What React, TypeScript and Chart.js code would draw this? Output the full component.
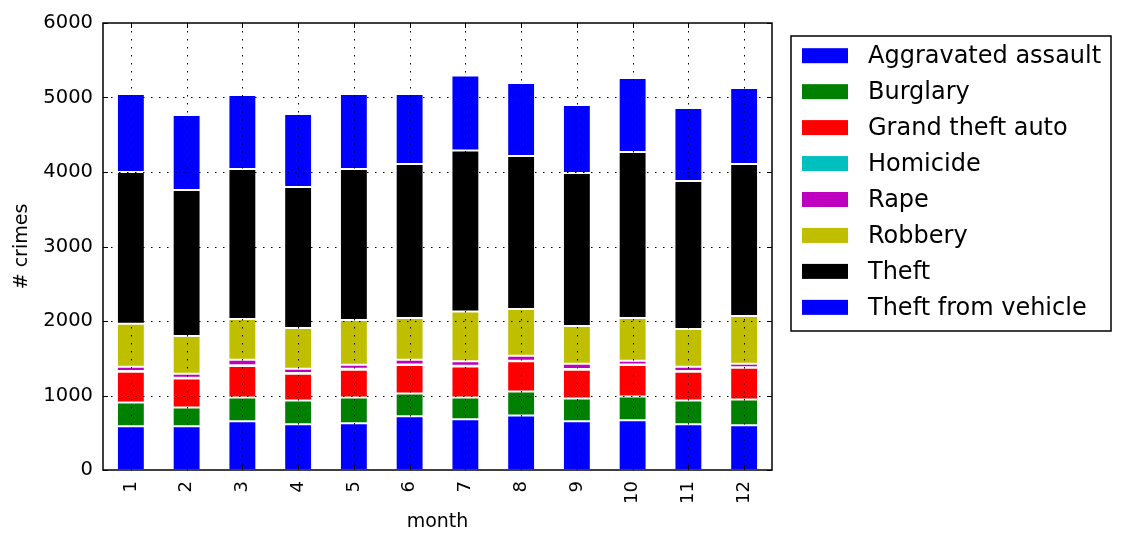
import React, { useEffect, useRef } from "react";
import { Chart, registerables } from "chart.js";

Chart.register(...registerables);

const months = ["1", "2", "3", "4", "5", "6", "7", "8", "9", "10", "11", "12"];
const aggravatedAssault = [587, 587, 653, 613, 627, 720, 680, 733, 653, 667, 613, 600];
const burglary = [320, 253, 320, 320, 346, 307, 293, 320, 307, 320, 320, 347];
const grandTheftAuto = [413, 387, 422, 360, 374, 383, 417, 407, 387, 423, 387, 426];
const homicide = [10, 10, 12, 10, 12, 5, 8, 7, 10, 5, 10, 7];
const rape = [57, 56, 73, 57, 54, 65, 62, 66, 70, 52, 57, 47];
const robbery = [575, 507, 547, 547, 600, 560, 666, 627, 506, 573, 506, 640];
const theft = [2038, 1958, 2013, 1892, 2027, 2067, 2162, 2055, 2054, 2228, 1986, 2040];
const theftFromVehicle = [1047, 1007, 994, 980, 1007, 940, 1007, 980, 912, 994, 980, 1021];

const seriesNames = [
  "Aggravated assault",
  "Burglary",
  "Grand theft auto",
  "Homicide",
  "Rape",
  "Robbery",
  "Theft",
  "Theft from vehicle",
];
const seriesValues = [
  aggravatedAssault,
  burglary,
  grandTheftAuto,
  homicide,
  rape,
  robbery,
  theft,
  theftFromVehicle,
];
const seriesColors = ["#0000ff", "#008000", "#ff0000", "#00bfbf", "#bf00bf", "#bfbf00", "#000000", "#0000ff"];

const yTicks = [0, 1000, 2000, 3000, 4000, 5000, 6000];
const xTitle = "month";
const yTitle = "# crimes";

const FONT = "'DejaVu Sans', 'Liberation Sans', sans-serif";

const decorPlugin = {
  id: "decor",
  afterDatasetsDraw(chart: any) {
    const { ctx, chartArea, scales } = chart;
    const { left, right, top, bottom } = chartArea;
    const x = scales.x;
    const y = scales.y;
    ctx.save();
    // dotted grid on top of bars
    ctx.strokeStyle = "#000";
    ctx.lineWidth = 1;
    ctx.setLineDash([1.5, 6.5]);
    yTicks.forEach((v) => {
      if (v <= 0 || v >= 6000) return;
      const py = Math.round(y.getPixelForValue(v)) + 0.5;
      ctx.beginPath();
      ctx.moveTo(left, py);
      ctx.lineTo(right, py);
      ctx.stroke();
    });
    months.forEach((_, i) => {
      const px = Math.round(x.getPixelForTick(i)) + 0.5;
      ctx.beginPath();
      ctx.moveTo(px, top);
      ctx.lineTo(px, bottom);
      ctx.stroke();
    });
    ctx.setLineDash([]);
    // inward ticks
    const tl = 5;
    yTicks.forEach((v) => {
      const py = Math.round(y.getPixelForValue(v)) + 0.5;
      ctx.beginPath();
      ctx.moveTo(left, py);
      ctx.lineTo(left + tl, py);
      ctx.moveTo(right, py);
      ctx.lineTo(right - tl, py);
      ctx.stroke();
    });
    months.forEach((_, i) => {
      const px = Math.round(x.getPixelForTick(i)) + 0.5;
      ctx.beginPath();
      ctx.moveTo(px, bottom);
      ctx.lineTo(px, bottom - tl);
      ctx.moveTo(px, top);
      ctx.lineTo(px, top + tl);
      ctx.stroke();
    });
    // spines
    ctx.lineWidth = 1.5;
    ctx.strokeRect(left, top, right - left, bottom - top);
    ctx.restore();
  },
  afterDraw(chart: any) {
    const { ctx, chartArea } = chart;
    ctx.save();
    // axis titles
    ctx.fillStyle = "#000";
    ctx.font = `19px ${FONT}`;
    ctx.textAlign = "center";
    ctx.textBaseline = "middle";
    ctx.fillText(xTitle, (chartArea.left + chartArea.right) / 2, 522);
    ctx.save();
    ctx.translate(22, (chartArea.top + chartArea.bottom) / 2);
    ctx.rotate(-Math.PI / 2);
    ctx.fillText(yTitle, 0, 0);
    ctx.restore();

    // legend
    const bx = 791;
    const by = 36;
    const bw = 320;
    const bh = 295;
    ctx.lineWidth = 1.5;
    ctx.strokeStyle = "#000";
    ctx.fillStyle = "#fff";
    ctx.fillRect(bx, by, bw, bh);
    ctx.strokeRect(bx, by, bw, bh);
    ctx.font = `24px ${FONT}`;
    ctx.textAlign = "left";
    ctx.textBaseline = "middle";
    chart.data.datasets.forEach((ds: any, i: number) => {
      const cy = 55.7 + i * 35.95;
      ctx.fillStyle = ds.backgroundColor;
      ctx.fillRect(802, cy - 7.5, 46, 15);
      ctx.fillStyle = "#000";
      ctx.fillText(ds.label, 868, cy + 1);
    });
    ctx.restore();
  },
};

export default function App() {
  const canvasRef = useRef<HTMLCanvasElement | null>(null);

  useEffect(() => {
    const canvas = canvasRef.current;
    if (!canvas) return;
    const chart = new Chart(canvas, {
      type: "bar",
      data: {
        labels: months,
        datasets: seriesNames.map((name, i) => ({
          label: name,
          data: seriesValues[i],
          backgroundColor: seriesColors[i],
          borderColor: "#ffffff",
          borderWidth: 1,
          borderSkipped: false,
          categoryPercentage: 1,
          barPercentage: 0.5,
        })),
      },
      options: {
        animation: false,
        responsive: false,
        maintainAspectRatio: false,
        devicePixelRatio: 1,
        layout: { padding: { left: 0, top: 23, right: 353, bottom: 0 } },
        plugins: {
          legend: { display: false },
          tooltip: { enabled: false },
        },
        scales: {
          x: {
            stacked: true,
            offset: true,
            grid: { display: false, drawTicks: false },
            border: { display: false },
            ticks: {
              autoSkip: false,
              minRotation: 90,
              maxRotation: 90,
              padding: 11,
              color: "#000",
              font: { family: FONT, size: 18 },
            },
            afterFit: (s: any) => {
              s.height = 77;
            },
          },
          y: {
            stacked: true,
            min: 0,
            max: 6000,
            grid: { display: false, drawTicks: false },
            border: { display: false },
            ticks: {
              stepSize: 1000,
              padding: 10,
              color: "#000",
              font: { family: FONT, size: 19.5 },
              callback: (v: any) => String(v),
            },
            afterFit: (s: any) => {
              s.width = 103;
            },
          },
        },
      },
      plugins: [decorPlugin],
    });
    return () => chart.destroy();
  }, []);

  return (
    <div style={{ position: "absolute", left: 0, top: 0, width: 1125, height: 547, background: "#fff" }}>
      <canvas ref={canvasRef} width={1125} height={547} style={{ width: 1125, height: 547 }} />
    </div>
  );
}
